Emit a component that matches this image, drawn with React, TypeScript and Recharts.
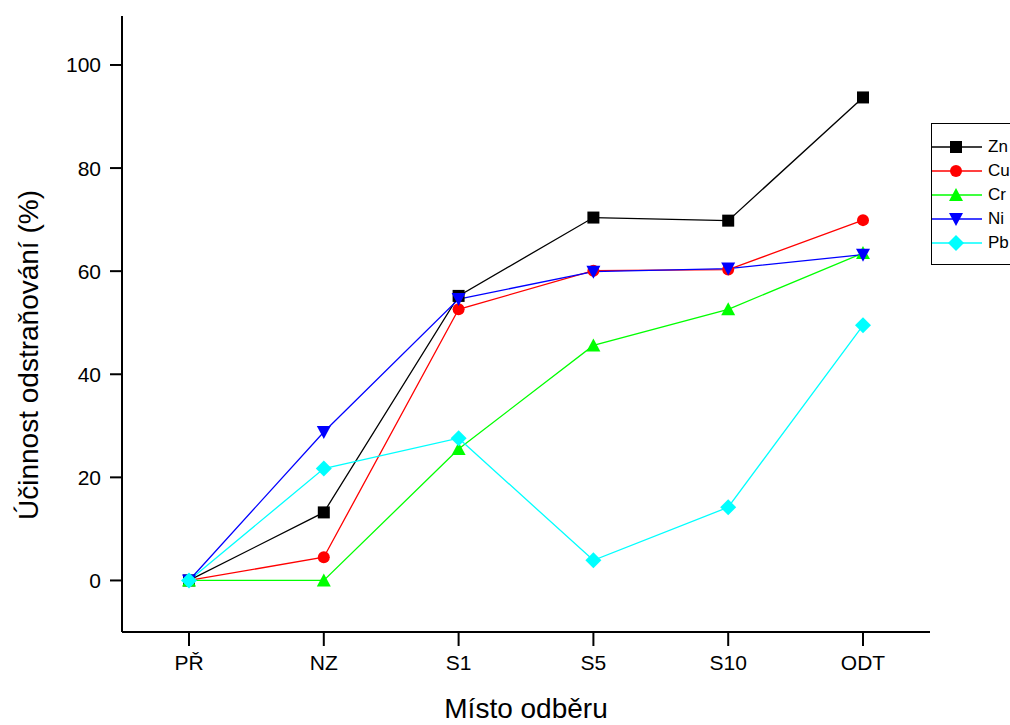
import { LineChart, Line, XAxis, YAxis } from 'recharts'

const sites = ['PŘ', 'NZ', 'S1', 'S5', 'S10', 'ODT']
const zn = [0, 13.2, 55.2, 70.4, 69.8, 93.7]
const cu = [0, 4.5, 52.6, 60.1, 60.3, 69.9]
const cr = [0, 0, 25.5, 45.6, 52.6, 63.5]
const ni = [0, 28.8, 54.6, 59.9, 60.5, 63.2]
const pb = [0, 21.7, 27.6, 3.9, 14.2, 49.5]
const yTicks = [0, 20, 40, 60, 80, 100]

type Shape = 'square' | 'circle' | 'up' | 'down' | 'diamond'

const series: { key: string; name: string; color: string; shape: Shape }[] = [
    { key: 'zn', name: 'Zn', color: '#000000', shape: 'square' },
    { key: 'cu', name: 'Cu', color: '#ff0000', shape: 'circle' },
    { key: 'cr', name: 'Cr', color: '#00ff00', shape: 'up' },
    { key: 'ni', name: 'Ni', color: '#0000ff', shape: 'down' },
    { key: 'pb', name: 'Pb', color: '#00ffff', shape: 'diamond' },
]

const data = sites.map((site, i) => ({
    site,
    zn: zn[i],
    cu: cu[i],
    cr: cr[i],
    ni: ni[i],
    pb: pb[i],
}))

const FONT = '"Liberation Sans", Arial, sans-serif'

function Marker({ cx, cy, shape, color }: { cx: number; cy: number; shape: Shape; color: string }) {
    if (cx == null || cy == null) return null
    switch (shape) {
        case 'square':
            return <rect x={cx - 6} y={cy - 6} width={12} height={12} fill={color} />
        case 'circle':
            return <circle cx={cx} cy={cy} r={6} fill={color} />
        case 'up':
            return <polygon points={`${cx},${cy - 7} ${cx + 7},${cy + 6} ${cx - 7},${cy + 6}`} fill={color} />
        case 'down':
            return <polygon points={`${cx},${cy + 7} ${cx + 7},${cy - 6} ${cx - 7},${cy - 6}`} fill={color} />
        default:
            return <polygon points={`${cx},${cy - 8} ${cx + 8},${cy} ${cx},${cy + 8} ${cx - 8},${cy}`} fill={color} />
    }
}

function LegendBox() {
    return (
        <div
            style={{
                position: 'absolute',
                left: 931,
                top: 123,
                border: '1.5px solid #000',
                borderRight: 'none',
                background: '#fff',
                width: 90,
                height: 142,
                boxSizing: 'border-box',
                paddingTop: 11,
                fontFamily: FONT,
                fontSize: 17,
                overflow: 'hidden',
            }}
        >
            {series.map((s) => (
                <div key={s.key} style={{ display: 'flex', alignItems: 'center', height: 24 }}>
                    <svg width={50} height={20} style={{ flexShrink: 0 }}>
                        <line x1={0} y1={10} x2={50} y2={10} stroke={s.color} strokeWidth={1.3} />
                        <Marker cx={24} cy={10} shape={s.shape} color={s.color} />
                    </svg>
                    <span style={{ marginLeft: 6, color: '#000', whiteSpace: 'nowrap' }}>{s.name}</span>
                </div>
            ))}
        </div>
    )
}

const xTitle = (props: any) => {
    const vb = props.viewBox
    return (
        <text x={vb.x + vb.width / 2} y={718} textAnchor="middle" fontSize={28} fontFamily={FONT} fill="#000">
            Místo odběru
        </text>
    )
}

const yTitle = (props: any) => {
    const vb = props.viewBox
    const cy = vb.y + vb.height / 2 + 31
    return (
        <text
            x={38}
            y={cy}
            transform={`rotate(-90, 38, ${cy})`}
            textAnchor="middle"
            fontSize={28}
            fontFamily={FONT}
            fill="#000"
        >
            Účinnost odstraňování (%)
        </text>
    )
}

export default function App() {
    return (
        <div style={{ position: 'absolute', left: 0, top: 0, width: 1010, height: 725, background: '#fff', overflow: 'hidden' }}>
            <LineChart
                width={1010}
                height={725}
                data={data}
                margin={{ top: 16, right: 80, bottom: 13, left: 12 }}
            >
                <XAxis
                    dataKey="site"
                    stroke="#000"
                    strokeWidth={2}
                    tickSize={14}
                    tickMargin={9}
                    padding={{ left: 67, right: 67 }}
                    tick={{ fill: '#000', fontSize: 21, fontFamily: FONT }}
                    tickLine={{ stroke: '#000', strokeWidth: 2 }}
                    label={xTitle}
                    height={80}
                />
                <YAxis
                    type="number"
                    domain={[-10, 109.5]}
                    ticks={yTicks}
                    stroke="#000"
                    strokeWidth={2}
                    tickSize={12}
                    tickMargin={9}
                    tick={{ fill: '#000', fontSize: 21, fontFamily: FONT }}
                    tickLine={{ stroke: '#000', strokeWidth: 2 }}
                    width={110}
                    label={yTitle}
                />
                {series.map((s) => (
                    <Line
                        key={s.key}
                        dataKey={s.key}
                        name={s.name}
                        stroke={s.color}
                        strokeWidth={1.3}
                        isAnimationActive={false}
                        dot={(p: any) => (
                            <Marker key={`${s.key}-${p.index}`} cx={p.cx} cy={p.cy} shape={s.shape} color={s.color} />
                        )}
                        activeDot={false}
                    />
                ))}
            </LineChart>
            <LegendBox />
        </div>
    )
}
